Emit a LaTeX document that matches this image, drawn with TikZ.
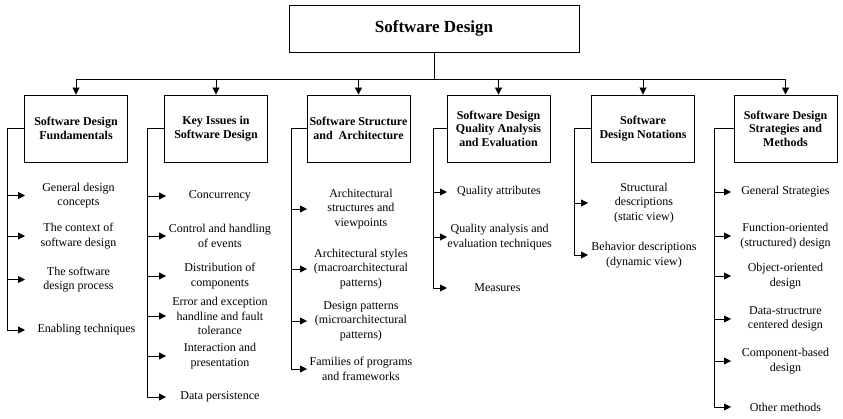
\documentclass[tikz,border=0pt]{standalone}
\usepackage{fontspec}
\setmainfont{Liberation Serif}
\usetikzlibrary{arrows.meta}
\begin{document}
\begin{tikzpicture}[x=1pt,y=-1pt,line width=0.9pt,
	box/.style={draw,minimum width=103pt,minimum height=67pt,align=center,inner sep=2pt,font=\fontsize{12}{13.5}\selectfont\bfseries},
	item/.style={anchor=west,inner sep=0pt,minimum width=#1,align=center,font=\fontsize{12}{14.5}\selectfont},
	item/.default=106pt,
	arr/.style={-{Triangle[length=7pt,width=7pt]}}]
			\useasboundingbox (0,0) rectangle (843,419);
			\node [draw,minimum width=290pt,minimum height=47pt,font=\fontsize{17}{20}\selectfont\bfseries] (sd) at (434,28.5) {Software Design};
			\node [box] (fund) at (76,128.5) {Software Design\\Fundamentals};
			\node [box] (keys) at (216,128.5) {Key Issues in\\Software Design};
			\node [box] (arch) at (358.5,128.5) {Software Structure\\and\ \ Architecture};
			\node [box] (qual) at (498.5,128.5) {Software Design\\Quality Analysis\\and Evaluation};
			\node [box] (nota) at (643,128.5) {Software\\Design Notations};
			\node [box] (strat) at (785.5,128.5) {Software Design\\Strategies and\\Methods};
			\coordinate (bus) at (434,79);
			\coordinate (s1) at (7,0);
			\coordinate (s2) at (147,0);
			\coordinate (s3) at (291,0);
			\coordinate (s4) at (433,0);
			\coordinate (s5) at (574,0);
			\coordinate (s6) at (714,0);
			\node [item] (g1) at (25,195.5) {General design\\concepts};
			\node [item] (g2) at (25,236) {The context of\\software design};
			\node [item] (g3) at (25,279.5) {The software\\design process};
			\node [item=122pt] (g4) at (25,330) {Enabling techniques};
			\node [item=107pt] (k1) at (166,196) {Concurrency};
			\node [item=107pt] (k2) at (166,236) {Control and handling\\of events};
			\node [item=107pt] (k3) at (166,276) {Distribution of\\components};
			\node [item=107pt] (k4) at (166,316) {Error and exception\\handline and fault\\tolerance};
			\node [item=107pt] (k5) at (166,356) {Interaction and\\presentation};
			\node [item=107pt] (k6) at (166,397) {Data persistence};
			\node [item=107pt] (a1) at (307,209) {Architectural\\structures and\\viewpoints};
			\node [item=107pt] (a2) at (307,269) {Architectural styles\\(macroarchitectural\\patterns)};
			\node [item=107pt] (a3) at (307,321) {Design patterns\\(microarchitectural\\patterns)};
			\node [item=107pt] (a4) at (307,369) {Families of programs\\and frameworks};
			\node [item=103pt] (q1) at (447,192) {Quality attributes};
			\node [item=103pt] (q2) at (447,237) {Quality analysis and\\evaluation techniques};
			\node [item=100pt] (q3) at (447,288) {Measures};
			\node [item=111pt] (n1) at (588,203) {Structural\\descriptions\\(static view)};
			\node [item=111pt] (n2) at (588,255) {Behavior descriptions\\(dynamic view)};
			\node [item=108pt] (m1) at (731,192) {General Strategies};
			\node [item=108pt] (m2) at (731,236) {Function-oriented\\(structured) design};
			\node [item=108pt] (m3) at (731,276) {Object-oriented\\design};
			\node [item=108pt] (m4) at (731,319) {Data-structrure\\centered design};
			\node [item=108pt] (m5) at (731,361) {Component-based\\design};
			\node [item=108pt] (m6) at (731,407) {Other methods};
			\draw (sd) -- (bus);
			\draw (bus -| fund) -- (bus -| strat);
			\draw [arr] (bus -| fund) -- (fund);
			\draw [arr] (bus -| keys) -- (keys);
			\draw [arr] (bus -| arch) -- (arch);
			\draw [arr] (bus -| qual) -- (qual);
			\draw [arr] (bus -| nota) -- (nota);
			\draw [arr] (bus -| strat) -- (strat);
			\draw [arr] (fund.west) -| (s1 |- g4) -- (g4);
			\draw [arr] (s1 |- g1) -- (g1);
			\draw [arr] (s1 |- g2) -- (g2);
			\draw [arr] (s1 |- g3) -- (g3);
			\draw [arr] (keys.west) -| (s2 |- k6) -- (k6);
			\draw [arr] (s2 |- k1) -- (k1);
			\draw [arr] (s2 |- k2) -- (k2);
			\draw [arr] (s2 |- k3) -- (k3);
			\draw [arr] (s2 |- k4) -- (k4);
			\draw [arr] (s2 |- k5) -- (k5);
			\draw [arr] (arch.west) -| (s3 |- a4) -- (a4);
			\draw [arr] (s3 |- a1) -- (a1);
			\draw [arr] (s3 |- a2) -- (a2);
			\draw [arr] (s3 |- a3) -- (a3);
			\draw [arr] (qual.west) -| (s4 |- q3) -- (q3);
			\draw [arr] (s4 |- q1) -- (q1);
			\draw [arr] (s4 |- q2) -- (q2);
			\draw [arr] (nota.west) -| (s5 |- n2) -- (n2);
			\draw [arr] (s5 |- n1) -- (n1);
			\draw [arr] (strat.west) -| (s6 |- m6) -- (m6);
			\draw [arr] (s6 |- m1) -- (m1);
			\draw [arr] (s6 |- m2) -- (m2);
			\draw [arr] (s6 |- m3) -- (m3);
			\draw [arr] (s6 |- m4) -- (m4);
			\draw [arr] (s6 |- m5) -- (m5);
		\end{tikzpicture}
\end{document}
